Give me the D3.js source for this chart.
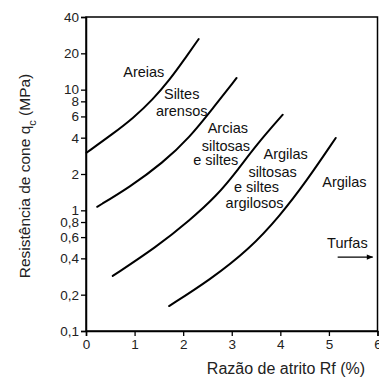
<!DOCTYPE html>
<html>
<head>
<meta charset="utf-8">
<script src="https://cdn.jsdelivr.net/npm/d3@7/dist/d3.min.js"></script>
<style>
  html, body { margin: 0; padding: 0; background: #fff; }
  svg { display: block; font-family: "Liberation Sans", Arial, sans-serif; }
</style>
</head>
<body>
<svg id="chart" width="379" height="381"></svg>
<script>
// Boundary curves of the soil classification chart (Rf %, qc MPa)
const boundaryAreias = [[0.01, 3.0], [0.55, 4.3], [0.97, 5.8], [1.38, 8.3], [1.73, 12.2], [1.99, 17.0], [2.32, 26.3]];
const boundarySiltes = [[0.23, 1.07], [0.9, 1.56], [1.58, 2.47], [2.14, 4.05], [2.61, 7.0], [3.1, 12.5]];
const boundaryArcias = [[0.55, 0.286], [1.46, 0.50], [2.14, 0.83], [2.69, 1.32], [3.1, 2.1], [3.51, 3.5], [4.05, 6.2]];
const boundaryArgilas = [[1.71, 0.161], [2.55, 0.265], [3.37, 0.48], [3.99, 0.90], [4.54, 1.75], [5.14, 3.98]];

const xTicks = [0, 1, 2, 3, 4, 5, 6];
const yTicks = [0.1, 0.2, 0.4, 0.6, 0.8, 1, 2, 4, 6, 8, 10, 20, 40];

// Zone names, placed at (Rf, qc)
const zoneLabels = [
  ["Areias", 1.19, 14.0],
  ["Siltes", 1.97, 9.2],
  ["arensos", 1.97, 6.65],
  ["Arcias", 2.92, 4.81],
  ["siltosas", 2.88, 3.41],
  ["e siltes", 2.67, 2.61],
  ["Argilas", 4.11, 2.93],
  ["siltosas", 3.84, 2.08],
  ["e siltes", 3.51, 1.56],
  ["argilosos", 3.47, 1.15],
  ["Argilas", 5.32, 1.72],
  ["Turfas", 5.38, 0.537]
];
const turfasArrow = [[5.18, 0.41], [5.9, 0.41]];

const svg = d3.select("#chart");
const mLeft = 86, mRight = 377.5, mTop = 17, mBottom = 331;

const x = d3.scaleLinear().domain([0, 6]).range([mLeft, mRight]);
const y = d3.scaleLog().domain([0.1, 40]).range([mBottom, mTop]);

const fmt = d => String(d).replace(".", ",");

// frame
svg.append("rect")
  .attr("x", mLeft).attr("y", mTop)
  .attr("width", mRight - mLeft).attr("height", mBottom - mTop)
  .attr("fill", "none").attr("stroke", "#000").attr("stroke-width", 1.5);

// axes
const xAxis = svg.append("g")
  .attr("transform", `translate(0,${mBottom})`)
  .call(d3.axisBottom(x).tickValues(xTicks).tickFormat(d3.format("d")).tickSize(5).tickPadding(3));
const yAxis = svg.append("g")
  .attr("transform", `translate(${mLeft},0)`)
  .call(d3.axisLeft(y).tickValues(yTicks).tickFormat(fmt).tickSize(5).tickPadding(2));

[xAxis, yAxis].forEach(g => {
  g.select(".domain").attr("stroke", "#000").attr("stroke-width", 1.5);
  g.selectAll(".tick line").attr("stroke", "#000").attr("stroke-width", 1.3);
  g.selectAll(".tick text")
    .attr("fill", "#222")
    .style("font-family", '"Liberation Sans", Arial, sans-serif')
    .style("font-size", "13.5px");
});

// boundary lines
const line = d3.line()
  .x(d => x(d[0]))
  .y(d => y(d[1]))
  .curve(d3.curveBasis);

[boundaryAreias, boundarySiltes, boundaryArcias, boundaryArgilas].forEach(pts => {
  svg.append("path")
    .attr("d", line(pts))
    .attr("fill", "none")
    .attr("stroke", "#000")
    .attr("stroke-width", 2)
    .attr("stroke-linecap", "round");
});

// zone labels
svg.selectAll("text.zone")
  .data(zoneLabels)
  .join("text")
  .attr("class", "zone")
  .attr("x", d => x(d[1]))
  .attr("y", d => y(d[2]))
  .attr("text-anchor", "middle")
  .attr("dominant-baseline", "central")
  .attr("fill", "#111")
  .style("font-size", "14.5px")
  .text(d => d[0]);

// arrow pointing to peat zone
svg.append("defs").append("marker")
  .attr("id", "arrowhead")
  .attr("viewBox", "0 0 10 10")
  .attr("refX", 9).attr("refY", 5)
  .attr("markerWidth", 6).attr("markerHeight", 5)
  .attr("orient", "auto")
  .append("path").attr("d", "M0,1 L10,5 L0,9 Z").attr("fill", "#000");

svg.append("line")
  .attr("x1", x(turfasArrow[0][0])).attr("y1", y(turfasArrow[0][1]))
  .attr("x2", x(turfasArrow[1][0])).attr("y2", y(turfasArrow[1][1]))
  .attr("stroke", "#000").attr("stroke-width", 1.3)
  .attr("marker-end", "url(#arrowhead)");

// axis titles
svg.append("text")
  .attr("x", 286)
  .attr("y", 374)
  .attr("text-anchor", "middle")
  .attr("fill", "#222")
  .style("font-size", "16px")
  .text("Razão de atrito Rf (%)");

const yTitle = svg.append("text")
  .attr("transform", `translate(30,${(mTop + mBottom) / 2 + 2}) rotate(-90)`)
  .attr("text-anchor", "middle")
  .attr("fill", "#222")
  .style("font-size", "15.5px");
yTitle.append("tspan").text("Resistência de cone q");
yTitle.append("tspan").attr("baseline-shift", "sub").style("font-size", "11px").text("c");
yTitle.append("tspan").text(" (MPa)");
</script>
</body>
</html>
